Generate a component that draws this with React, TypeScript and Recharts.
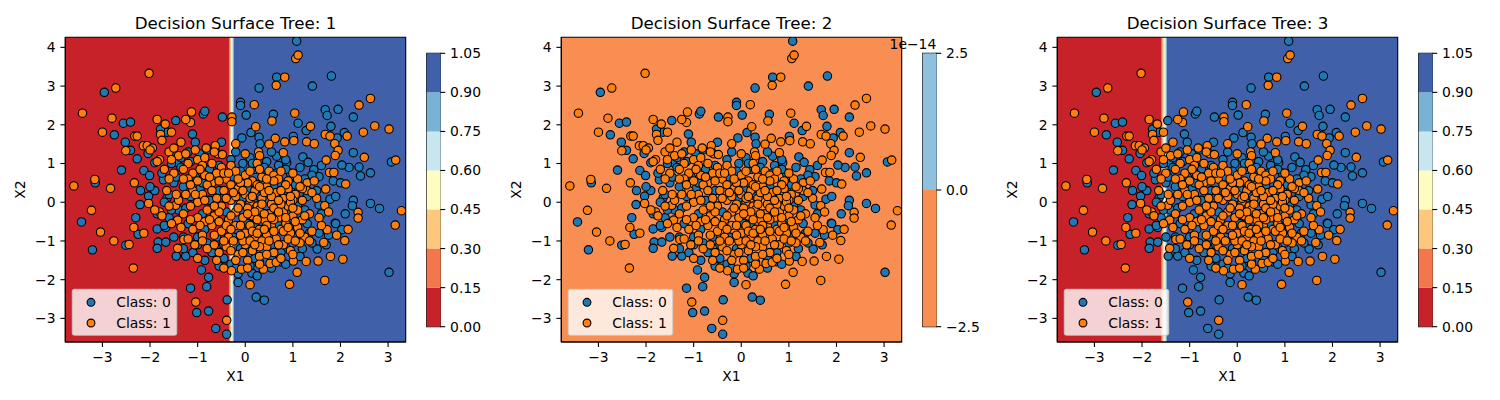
import React from 'react';
import { ScatterChart, Scatter, XAxis, YAxis, ReferenceArea, BarChart, Bar } from 'recharts';

// ---------- data ----------
const xTicks = [-3, -2, -1, 0, 1, 2, 3];
const yTicks = [-3, -2, -1, 0, 1, 2, 3, 4];
const xDomain: [number, number] = [-3.78, 3.37];
const yDomain: [number, number] = [-3.61, 4.26];

const titles = ['Decision Surface Tree: 1', 'Decision Surface Tree: 2', 'Decision Surface Tree: 3'];
const classLabels = ['Class: 0', 'Class: 1'];

const class0: [number, number][] = [
  [1.08, 4.16], [-2.96, 2.84], [0.29, 2.95], [0.66, 3.23], [1.41, 3.0], [1.81, 3.26], [-2.56, 2.04], [-2.41, 2.07],
  [-2.75, 1.74], [-2.52, 1.55], [-2.41, 1.34], [-2.27, 1.12], [-2.6, 0.83], [-2.13, 0.82], [-2.01, 0.69], [-3.15, 0.5],
  [-3.44, -0.51], [-3.21, -1.23], [-2.51, -1.11], [-2.25, -0.83], [-2.21, -0.06], [-2.03, 0.16], [-1.85, -0.69],
  [-1.83, -1.03], [-1.85, -1.19], [-1.67, -1.03], [-1.67, -0.65], [-1.46, 2.11], [-1.11, 1.76], [-0.88, 2.28],
  [-0.85, 2.35], [-0.48, 2.2], [-0.1, 2.58], [-0.1, 2.5], [0.02, 2.25], [-0.07, 1.66], [0.12, 1.8], [0.29, 1.68],
  [0.31, 1.51], [0.59, 2.27], [1.11, 2.04], [1.01, 1.7], [1.28, 1.85], [1.68, 2.39], [1.72, 2.24], [1.8, 1.96],
  [1.95, 2.4], [1.93, 1.66], [2.08, 1.8], [2.27, 2.2], [2.27, 1.28], [2.18, 0.9], [2.39, 0.91], [2.42, 0.68],
  [2.03, 0.96], [2.63, 0.76], [2.63, -0.03], [2.82, -0.16], [3.07, 1.04], [3.02, -1.81], [2.27, 0.05], [2.25, -0.09],
  [1.78, 0.08], [1.55, -0.07], [1.89, -0.54], [2.03, -0.71], [1.51, -1.21], [0.66, 1.19], [0.87, 1.02], [0.97, 0.68],
  [1.21, 1.17], [1.32, 1.03], [1.44, 0.84], [1.55, 0.66], [-1.15, -2.22], [-1.02, -2.85], [-0.77, -2.81],
  [-0.81, -2.18], [-0.77, -1.94], [-0.92, -1.75], [-0.38, -2.52], [-0.62, -3.26], [-0.39, -3.41], [0.23, -2.45],
  [0.4, -2.53], [0.14, -1.83], [-0.15, -2.07], [0.74, -1.54], [-1.45, -1.39], [-1.25, -1.39], [-1.64, 0.12],
  [-1.72, 0.58], [-1.44, 1.02], [-1.64, 1.81], [-1.78, 1.89], [-2.04, 1.26], [-1.9, 1.02],
  [-1.9, 0.3], [-1.7, 0.0], [-1.6, -0.4], [-1.5, 0.5], [-1.4, -0.2], [-1.3, 0.4], [-1.2, -0.55], [-1.15, 0.15],
  [-1.0, -0.9], [-0.95, 0.35], [-0.9, -0.3], [-0.8, -1.05], [-0.75, 0.05], [-0.6, -0.9], [-1.75, 0.75], [-1.55, 1.0],
  [-1.35, 0.9], [-1.2, 1.3], [-0.95, 1.25], [-0.75, 0.85], [-0.55, 0.95], [-1.5, -0.9], [-1.3, -1.2], [-1.1, -1.3],
  [-0.85, -1.5], [-0.55, -1.65], [-0.3, -1.6], [-0.15, -1.85], [0.1, -1.65], [0.3, -1.55], [0.55, -1.45],
  [0.75, -1.3], [1.0, -1.05], [1.2, -1.2], [1.4, -1.05], [1.55, -0.8], [1.6, -0.3], [1.5, 0.3], [1.4, 0.7],
  [1.15, 0.9], [0.95, 0.75], [0.7, 0.95], [0.45, 1.05], [0.2, 0.85], [-0.05, 1.0], [-0.25, 0.65], [0.05, 0.35],
  [-0.4, -0.25], [0.2, -0.55], [0.6, 0.4], [0.9, -0.45], [-0.1, -1.2], [0.4, -0.95], [1.3, -0.55], [-0.2, 1.3],
  [0.1, 1.15], [-1.7, -0.6], [-2.0, 0.4], [-1.85, -0.3], [0.55, 1.3], [-0.5, 1.55], [-1.05, 1.55], [0.85, 1.1],
  [1.75, -0.85], [1.9, -0.55], [1.25, 0.6], [-0.45, -1.45], [0.25, -1.9], [-0.65, -0.5], [-0.05, 0.1],
  [1.05, -0.9], [1.25, -0.2], [0.95, 0.3], [1.7, -1.1], [1.6, 0.95], [1.85, 0.55],
  [-1.45, 0.65], [-1.25, -0.15], [-1.05, 0.65], [-0.85, -0.7], [-0.65, 0.6], [-0.45, -1.1], [-0.3, 1.1],
  [-0.1, 0.8], [0.15, 1.0], [0.4, 0.9], [0.65, 0.75], [0.85, 0.85], [1.05, 0.45], [1.3, 0.15], [1.35, -0.8],
  [1.15, -1.4], [0.85, -1.6], [0.55, -1.7], [0.2, -1.45], [-0.2, -1.7], [-0.7, -1.3], [-1.0, -1.1], [-1.3, -0.9],
  [-1.55, -0.2], [-1.6, 0.2], [-1.35, 1.15], [-1.15, 1.05], [-0.8, 1.35], [-2.2, 0.3], [-2.3, -0.4], [2.0, 0.5],
  [2.1, -0.3], [1.9, 0.15], [-0.55, 0.3], [0.3, 0.15], [0.7, -0.6], [-0.25, -0.9], [0.05, -0.55], [1.1, -0.1],
  [-0.9, 0.5],
];

const class1: [number, number][] = [
  [-2.02, 3.33], [-2.72, 2.95], [-3.42, 2.3], [-2.8, 2.17], [-3.0, 1.81], [-2.32, 1.71], [-2.27, 1.71], [-2.51, 1.33],
  [-2.14, 1.46], [-2.06, 1.46], [-1.85, 2.14], [-1.68, 2.02], [-1.78, 1.75], [-1.55, 1.81], [-3.6, 0.42],
  [-3.16, 0.59], [-2.83, 0.36], [-2.33, 0.5], [-3.23, -0.21], [-3.04, -0.77], [-2.76, -1.0], [-2.44, -1.09],
  [-2.35, -1.7], [-2.34, -0.65], [-2.13, -0.8], [-2.03, -0.03], [-1.8, -0.25], [-1.46, -0.08], [-1.42, -0.46],
  [-1.42, -1.19], [-1.29, -0.96], [-1.06, -1.1], [-1.04, -2.58], [-0.39, -3.05], [-0.29, -1.77], [-0.08, -1.73],
  [0.1, -2.13], [0.38, -1.73], [0.52, -1.58], [0.93, -2.12], [1.01, -1.52], [1.09, -1.81], [1.28, -1.53],
  [1.53, -1.52], [1.67, -2.02], [1.79, -1.4], [2.05, -1.47], [2.09, -0.99], [2.16, -0.7], [1.92, -0.85],
  [1.72, -0.71], [1.65, -1.04], [2.37, -0.26], [2.37, -0.41], [3.28, -0.22], [3.15, -0.59], [3.16, 1.09],
  [3.02, 1.89], [2.72, 1.97], [2.63, 2.68], [2.39, 2.51], [2.48, 1.81], [2.5, 1.16], [2.11, 0.47], [2.14, 1.71],
  [1.68, 1.75], [1.78, 1.71], [1.88, 1.51], [1.95, 1.34], [1.89, 1.21], [1.7, 1.09], [1.77, 0.77], [1.86, 0.77],
  [1.69, 0.34], [1.67, -0.09], [1.37, 1.96], [1.29, 1.56], [1.45, 1.51], [1.02, 1.59], [1.04, 2.3], [0.83, 1.56],
  [0.8, 1.28], [0.63, 1.65], [0.56, 2.1], [0.65, 3.02], [0.83, 3.23], [1.06, 3.71], [1.11, 3.8], [0.19, 2.52],
  [0.22, 1.95], [0.28, 1.3], [-0.28, 2.2], [-0.28, 2.08], [-0.2, 1.51], [-0.63, 1.46], [-0.58, 1.25],
  [-0.48, 1.23], [-0.82, 1.4], [-1.13, 2.33], [-1.15, 2.06], [-1.25, 2.14],
  [-1.4, 1.2], [-1.2, 1.0], [-1.0, 1.1], [-0.9, 0.95], [-0.7, 1.0], [-0.5, 0.9], [-0.3, 0.95], [-1.6, 1.3],
  [-1.8, 1.1], [-1.3, 0.85], [-1.1, 0.75], [0.3, 1.2], [0.25, 1.0],
  [-1.5, 0.75], [-1.2, 0.6], [-1.0, 0.55], [-0.85, 0.7], [-0.6, 0.75], [-0.4, 0.6], [-0.2, 0.8], [0.0, 0.7],
  [0.15, 0.55], [0.35, 0.65], [0.5, 0.8], [0.6, 0.7], [0.7, 0.6], [0.9, 0.55], [1.1, 0.6], [1.3, 0.5], [1.45, 0.55],
  [-0.7, 0.5], [-0.3, 0.45], [0.05, 0.5],
  [-1.4, 0.05], [-1.1, 0.3], [-0.9, 0.2], [-0.8, 0.45], [-0.6, 0.1], [-0.45, 0.3], [-0.3, 0.05], [-0.15, 0.35],
  [0.0, 0.2], [0.1, 0.0], [0.2, 0.3], [0.35, 0.1], [0.45, 0.4], [0.55, -0.05], [0.65, 0.25], [0.8, 0.1], [0.9, 0.35],
  [1.05, 0.2], [1.2, 0.05], [1.3, 0.3], [1.5, 0.1], [-1.0, 0.0], [-0.2, 0.15], [0.25, -0.1],
  [-1.3, -0.3], [-1.0, -0.4], [-0.8, -0.2], [-0.65, -0.35], [-0.5, -0.1], [-0.35, -0.45], [-0.2, -0.25],
  [-0.05, -0.4], [0.05, -0.15], [0.15, -0.35], [0.3, -0.2], [0.4, -0.45], [0.5, -0.3], [0.6, -0.15], [0.7, -0.4],
  [0.8, -0.25], [0.9, -0.1], [1.0, -0.35], [1.1, -0.2], [1.2, -0.45], [1.35, -0.3], [0.35, -0.05], [0.75, -0.05],
  [-0.1, -0.05],
  [-1.1, -0.7], [-0.9, -0.85], [-0.7, -0.6], [-0.5, -0.75], [-0.35, -0.9], [-0.2, -0.6], [0.0, -0.8], [0.1, -0.6],
  [0.2, -0.95], [0.3, -0.7], [0.45, -0.85], [0.55, -0.6], [0.65, -0.95], [0.75, -0.7], [0.85, -0.55], [0.95, -0.8],
  [1.1, -0.65], [1.25, -0.9], [1.4, -0.75], [1.6, -0.6], [-0.25, -1.0], [0.35, -1.0],
  [-0.8, -1.2], [-0.55, -1.3], [-0.4, -1.15], [-0.15, -1.35], [0.0, -1.1], [0.15, -1.25], [0.3, -1.4],
  [0.45, -1.15], [0.6, -1.3], [0.8, -1.1], [0.95, -1.25], [1.15, -1.05], [-0.6, -1.5], [0.05, -1.5], [0.65, -1.55],
  [0.1, 0.1], [0.25, 0.45], [0.4, 0.25], [0.55, 0.15], [0.7, 0.05], [0.85, 0.45], [1.0, 0.05], [0.2, -0.25],
  [0.45, -0.6], [0.6, -0.45], [0.8, -0.75], [1.05, -0.5], [0.15, -0.75], [-0.1, -0.6], [-0.4, -0.6], [-0.55, -0.25],
  [-0.7, 0.3], [-0.45, 0.75], [-0.1, 0.5], [0.6, 0.55], [0.95, 0.0], [1.15, -0.8], [0.3, -1.15], [-0.05, -1.0],
  [0.5, -1.0], [0.9, -0.95], [-0.3, -0.7], [-0.85, -0.5], [-1.15, -0.1], [-1.25, 0.2],
  [-1.95, 1.4], [-1.85, 1.05], [-1.7, 0.85], [-1.6, 0.6], [-1.75, 1.6], [-1.5, 1.4], [-1.35, 1.55], [-1.25, 1.25],
  [-1.05, 1.35], [-0.85, 1.15], [-1.9, -0.2], [-1.75, -0.35], [-1.55, -0.55], [-1.35, -0.65], [-1.2, -0.95],
  [-1.65, 0.3], [-2.0, 1.35], [-1.15, 0.45], [-1.45, 0.2],
  [-0.95, 0.85], [-0.75, 0.65], [-0.55, 0.55], [-0.35, 0.75], [-0.15, 0.6], [0.1, 0.8], [0.3, 0.85], [0.45, 0.6],
  [0.75, 0.8], [1.0, 0.75], [1.2, 0.35], [1.4, 0.25], [-1.05, 0.2], [-0.85, 0.05], [-0.65, -0.1], [-0.4, 0.1],
  [-0.25, 0.25], [-0.05, 0.3], [0.15, 0.15], [0.3, 0.4], [0.5, 0.3], [0.75, 0.3], [0.95, 0.15], [1.15, 0.4],
  [-1.15, -0.45], [-0.95, -0.6], [-0.75, -0.45], [-0.55, -0.5], [-0.3, -0.35], [-0.15, -0.15], [0.05, -0.3],
  [0.25, -0.45], [0.4, -0.3], [0.55, -0.4], [0.7, -0.25], [0.85, -0.4], [1.0, -0.15], [1.25, -0.35],
  [-0.9, -1.0], [-0.65, -0.85], [-0.45, -1.0], [-0.1, -0.85], [0.1, -1.0], [0.25, -0.8], [0.4, -0.7], [0.6, -0.75],
  [0.7, -1.1], [0.9, -0.65], [1.05, -1.0], [1.35, -1.0], [-0.65, -1.1], [-0.3, -1.25], [-0.05, -1.3], [0.2, -1.1],
  [0.45, -1.35], [0.75, -1.45], [1.0, -1.35], [-0.2, -1.5], [0.3, -1.6], [-1.0, -1.45], [-1.6, -0.1], [-1.3, 0.6],
  [-1.55, 1.1], [-0.65, 1.3], [0.0, 1.25], [0.5, 1.5], [0.05, -1.7], [-0.45, -1.7], [1.55, -0.4], [1.75, -0.25],
];

// decision surfaces: x-intervals (null = plot edge) and contour level index
type Band = { x1: number | null; x2: number | null; level: number };
const surface1: Band[] = [
  { x1: null, x2: -0.342, level: 0 }, { x1: -0.342, x2: -0.321, level: 1 }, { x1: -0.321, x2: -0.3, level: 2 },
  { x1: -0.3, x2: -0.279, level: 3 }, { x1: -0.279, x2: -0.258, level: 4 }, { x1: -0.258, x2: -0.237, level: 5 },
  { x1: -0.237, x2: null, level: 6 },
];
const surface2: Band[] = [{ x1: null, x2: null, level: 0 }];
const surface3: Band[] = [
  { x1: null, x2: -1.588, level: 0 }, { x1: -1.588, x2: -1.566, level: 1 }, { x1: -1.566, x2: -1.544, level: 2 },
  { x1: -1.544, x2: -1.522, level: 3 }, { x1: -1.522, x2: -1.5, level: 4 }, { x1: -1.5, x2: -1.477, level: 5 },
  { x1: -1.477, x2: null, level: 6 },
];

const levels1 = [0, 0.15, 0.3, 0.45, 0.6, 0.75, 0.9, 1.05];
const levels2 = [-2.5, 0, 2.5];

// ---------- styles ----------
const FONT = "'DejaVu Sans', sans-serif";
const palette7 = ['#c7212a', '#f3774b', '#fdc77d', '#fefcc0', '#c8e6f0', '#7ab2d4', '#4061a9'];
const palette2 = ['#f98e52', '#8fc0dd'];
const CLASS_COLORS = ['#1f77b4', '#ff7f0e'];
const OFFSETS = [0, 496, 992];

const minus = (s: string) => s.replace('-', '\u2212');

const panels = [
  { surface: surface1, levels: levels1, palette: palette7, digits: 2, offsetText: '' },
  { surface: surface2, levels: levels2, palette: palette2, digits: 1, offsetText: '1e\u221214' },
  { surface: surface3, levels: levels1, palette: palette7, digits: 2, offsetText: '' },
];

const pts0 = class0.map(([x, y]) => ({ x, y }));
const pts1 = class1.map(([x, y]) => ({ x, y }));

const dot = (color: string) => (props: any) => (
  <circle cx={props.cx} cy={props.cy} r={4.2} fill={color} stroke="#000" strokeWidth={1.1} />
);

const tickStyle = { fontSize: 13.9, fill: '#000', fontFamily: FONT };
const lineStyle = { stroke: '#000', strokeWidth: 1.1 };

function Surface({ bands, palette }: { bands: Band[]; palette: string[] }) {
  return (
    <ScatterChart width={500} height={400} margin={{ top: 37.3, right: 94.3, bottom: 58, left: 65.3 }}>
      <XAxis type="number" dataKey="x" domain={xDomain} allowDataOverflow hide />
      <YAxis type="number" dataKey="y" domain={yDomain} allowDataOverflow hide />
      {bands.map((b, i) => (
        <ReferenceArea
          key={i}
          x1={b.x1 === null ? xDomain[0] : b.x1}
          x2={b.x2 === null ? xDomain[1] : b.x2}
          y1={yDomain[0]}
          y2={yDomain[1]}
          fill={palette[b.level]}
          fillOpacity={1}
          stroke="none"
          ifOverflow="visible"
        />
      ))}
    </ScatterChart>
  );
}

function Points() {
  return (
    <ScatterChart width={500} height={400} margin={{ top: 37.3, right: 94.3, bottom: 28, left: 30.3 }}>
      <XAxis
        type="number"
        dataKey="x"
        domain={xDomain}
        allowDataOverflow
        ticks={xTicks}
        interval={0}
        tickFormatter={(v: number) => minus(String(v))}
        tick={tickStyle}
        tickLine={lineStyle}
        axisLine={lineStyle}
        tickSize={4.9}
        tickMargin={4.9}
        height={30}
      />
      <YAxis
        type="number"
        dataKey="y"
        domain={yDomain}
        allowDataOverflow
        ticks={yTicks}
        interval={0}
        tickFormatter={(v: number) => minus(String(v))}
        tick={tickStyle}
        tickLine={lineStyle}
        axisLine={lineStyle}
        tickSize={4.9}
        tickMargin={4.9}
        width={35}
      />
      <Scatter data={pts0} isAnimationActive={false} shape={dot(CLASS_COLORS[0])} />
      <Scatter data={pts1} isAnimationActive={false} shape={dot(CLASS_COLORS[1])} />
      <ReferenceArea
        x1={xDomain[0]}
        x2={xDomain[1]}
        y1={yDomain[0]}
        y2={yDomain[1]}
        fill="none"
        fillOpacity={0}
        stroke="#000"
        strokeWidth={1.1}
        ifOverflow="visible"
      />
    </ScatterChart>
  );
}

function ColorBar({ levels, palette, digits }: { levels: number[]; palette: string[]; digits: number }) {
  const row: Record<string, number> = { name: 0 } as any;
  const keys: string[] = [];
  for (let i = 0; i < levels.length - 1; i++) {
    const lo = levels[i];
    const hi = levels[i + 1];
    row['b' + i] = hi <= 0 ? lo - hi : hi - lo;
    keys.push('b' + i);
  }
  return (
    <BarChart
      width={100}
      height={400}
      data={[row]}
      stackOffset="sign"
      barCategoryGap={0}
      barGap={0}
      margin={{ top: 53.3, right: 14.7, bottom: 73.3, left: 26.7 }}
    >
      <XAxis type="category" dataKey="name" hide />
      <YAxis
        orientation="right"
        type="number"
        domain={[levels[0], levels[levels.length - 1]]}
        allowDataOverflow
        ticks={levels}
        interval={0}
        tickFormatter={(v: number) => minus(v.toFixed(digits))}
        tick={tickStyle}
        tickLine={lineStyle}
        axisLine={false}
        tickSize={4.9}
        tickMargin={4.9}
        width={45}
      />
      {keys.map((k, i) => (
        <Bar key={k} dataKey={k} stackId="cb" fill={palette[i]} isAnimationActive={false} />
      ))}
      <ReferenceArea
        y1={levels[0]}
        y2={levels[levels.length - 1]}
        fill="none"
        fillOpacity={0}
        stroke="#000"
        strokeWidth={1.1}
        ifOverflow="visible"
      />
    </BarChart>
  );
}

export default function App() {
  return (
    <div style={{ position: 'relative', width: 1500, height: 400, background: '#fff', fontFamily: FONT }}>
      <style>{'body{margin:0;}'}</style>
      {panels.map((p, i) => (
        <React.Fragment key={i}>
          <div style={{ position: 'absolute', left: OFFSETS[i], top: 0 }}>
            <Surface bands={p.surface} palette={p.palette} />
          </div>
          <div style={{ position: 'absolute', left: OFFSETS[i], top: 0 }}>
            <Points />
          </div>
          <div style={{ position: 'absolute', left: OFFSETS[i] + 400, top: 0 }}>
            <ColorBar levels={p.levels} palette={p.palette} digits={p.digits} />
          </div>
        </React.Fragment>
      ))}
      <svg width={1500} height={400} style={{ position: 'absolute', left: 0, top: 0, pointerEvents: 'none' }}>
        {panels.map((p, i) => {
          const o = OFFSETS[i];
          return (
            <g key={i} fontFamily={FONT}>
              <text x={o + 235.5} y={29} textAnchor="middle" fontSize={16.7} fill="#000">
                {titles[i]}
              </text>
              <text x={o + 235.5} y={381} textAnchor="middle" fontSize={13.9} fill="#000">
                X1
              </text>
              <text transform={`translate(${o + 25},189.7) rotate(-90)`} textAnchor="middle" fontSize={13.9} fill="#000">
                X2
              </text>
              {p.offsetText && (
                <text x={o + 440.3} y={49} textAnchor="end" fontSize={13.9} fill="#000">
                  {p.offsetText}
                </text>
              )}
              <rect
                x={o + 72.3}
                y={289.3}
                width={104.4}
                height={46}
                rx={2.5}
                fill="#fff"
                fillOpacity={0.8}
                stroke="#ccc"
                strokeOpacity={0.8}
                strokeWidth={1.1}
              />
              {classLabels.map((lab, j) => (
                <g key={j}>
                  <circle cx={o + 91} cy={302.3 + j * 20.7} r={3.9} fill={CLASS_COLORS[j]} stroke="#000" strokeWidth={1.1} />
                  <text x={o + 116.3} y={307.3 + j * 20.7} fontSize={13.9} fill="#000">
                    {lab}
                  </text>
                </g>
              ))}
            </g>
          );
        })}
      </svg>
    </div>
  );
}
